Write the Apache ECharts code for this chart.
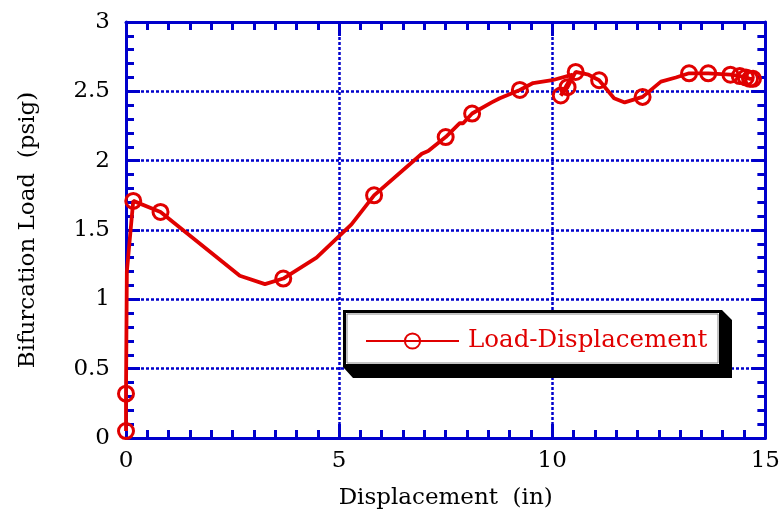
<!DOCTYPE html>
<html>
<head>
<meta charset="utf-8">
<script src="https://cdn.jsdelivr.net/npm/echarts@6/dist/echarts.min.js"></script>
<style>
  html, body { margin: 0; padding: 0; background: #fff; }
  #chart { width: 783px; height: 523px; }
</style>
</head>
<body>
<div id="chart"></div>
<script>
// Bifurcation load vs. displacement test record
const dispX = [0, 0, 0.02, 0.17, 0.81, 2.67, 3.26, 3.69, 4.47, 5.29, 5.82, 6.94, 7.09, 7.50, 7.83, 7.91,
  8.12, 8.58, 8.77, 9.24, 9.55, 10.0, 10.48, 10.2, 10.36, 10.55, 10.85, 11.1, 11.45, 11.7, 12.12,
  12.55, 12.9, 13.21, 13.66, 14.18, 14.40, 14.54, 14.64, 14.71];
const loadY = [0.05, 0.32, 1.20, 1.71, 1.63, 1.17, 1.11, 1.15, 1.30, 1.54, 1.75, 2.05, 2.07, 2.17, 2.27, 2.27,
  2.34, 2.42, 2.45, 2.51, 2.56, 2.58, 2.62, 2.47, 2.53, 2.64, 2.62, 2.58, 2.45, 2.42, 2.46,
  2.57, 2.60, 2.63, 2.63, 2.62, 2.61, 2.60, 2.59, 2.59];
// 1 = recorded reading drawn with a circle marker
const hasMarker = [1, 1, 0, 1, 1, 0, 0, 1, 0, 0, 1, 0, 0, 1, 0, 0,
  1, 0, 0, 1, 0, 0, 0, 1, 1, 1, 0, 1, 0, 0, 1,
  0, 0, 1, 1, 1, 1, 1, 1, 1];
const xTicks = [0, 5, 10, 15];
const yTicks = [0, 0.5, 1, 1.5, 2, 2.5, 3];
const seriesName = 'Load-Displacement';

const BLUE = '#0000cc';
const RED = '#e00000';
const FONT = 'DejaVu Serif';
const FS = 23;

const points = dispX.map((x, i) => ({
  value: [x, loadY[i]],
  symbol: hasMarker[i] ? 'circle' : 'none'
}));

function axisBase(showLabels) {
  return {
    axisLine: { show: true, onZero: false, lineStyle: { color: BLUE, width: 3 } },
    axisTick: { show: true, inside: true, length: 14, lineStyle: { color: BLUE, width: 3 } },
    minorTick: { show: true, splitNumber: 5, length: 8, lineStyle: { color: BLUE, width: 3 } },
    splitLine: { show: showLabels, lineStyle: { color: BLUE, width: 2.5, type: [3, 2] } },
    axisLabel: { show: false }
  };
}

const chart = echarts.init(document.getElementById('chart'), null, { renderer: 'canvas' });
chart.setOption({
  animation: false,
  backgroundColor: '#fff',
  grid: { left: 126, right: 17, top: 22, bottom: 85, containLabel: false },
  xAxis: [
    Object.assign(axisBase(true), {
      type: 'value', position: 'bottom', min: 0, max: 15, interval: 5,
      minorTick: { show: true, splitNumber: 10, length: 8, lineStyle: { color: BLUE, width: 3 } },
      name: 'Displacement  (in)', nameLocation: 'middle', nameGap: 49,
      nameTextStyle: { color: '#000', fontFamily: FONT, fontSize: FS },
      axisLabel: { show: true, color: '#000', fontFamily: FONT, fontSize: FS, margin: 12,
        formatter: v => xTicks.includes(v) ? String(v) : '' }
    }),
    Object.assign(axisBase(false), {
      type: 'value', position: 'top', min: 0, max: 15, interval: 5,
      minorTick: { show: true, splitNumber: 10, length: 8, lineStyle: { color: BLUE, width: 3 } }
    })
  ],
  yAxis: [
    Object.assign(axisBase(true), {
      type: 'value', position: 'left', min: 0, max: 3, interval: 0.5,
      name: 'Bifurcation Load  (psig)', nameLocation: 'middle', nameGap: 86,
      nameTextStyle: { color: '#000', fontFamily: FONT, fontSize: FS },
      axisLabel: { show: true, color: '#000', fontFamily: FONT, fontSize: FS, margin: 16,
        padding: [0, 0, 8, 0],
        formatter: v => yTicks.includes(v) ? String(v) : '' }
    }),
    Object.assign(axisBase(false), {
      type: 'value', position: 'right', min: 0, max: 3, interval: 0.5
    })
  ],
  // framed legend panel with a bevelled drop shadow
  graphic: [
    {
      type: 'polygon', z: 6, silent: true,
      shape: { points: [[722, 310], [732, 320], [732, 378], [353, 378], [343, 367], [722, 367]] },
      style: { fill: '#000' }
    },
    {
      type: 'rect', z: 7, silent: true,
      shape: { x: 344.5, y: 311.5, width: 376, height: 54 },
      style: { fill: '#fff', stroke: '#000', lineWidth: 3 }
    },
    {
      type: 'rect', z: 7, silent: true,
      shape: { x: 347, y: 314, width: 371, height: 49 },
      style: { fill: 'none', stroke: '#888', lineWidth: 1 }
    }
  ],
  legend: {
    show: true,
    z: 10,
    data: [seriesName],
    left: 365, top: 327,
    itemWidth: 93, itemHeight: 19,
    padding: 0,
    textStyle: { color: RED, fontFamily: FONT, fontSize: 24.5, lineHeight: 28, padding: [0, 0, 0, 4] }
  },
  series: [{
    name: seriesName,
    type: 'line',
    data: points,
    symbol: 'circle',
    symbolSize: 15,
    showAllSymbol: true,
    lineStyle: { color: RED, width: 3.8 },
    itemStyle: { color: 'rgba(0,0,0,0)', borderColor: RED, borderWidth: 3 },
    z: 5
  }]
});
</script>
</body>
</html>
